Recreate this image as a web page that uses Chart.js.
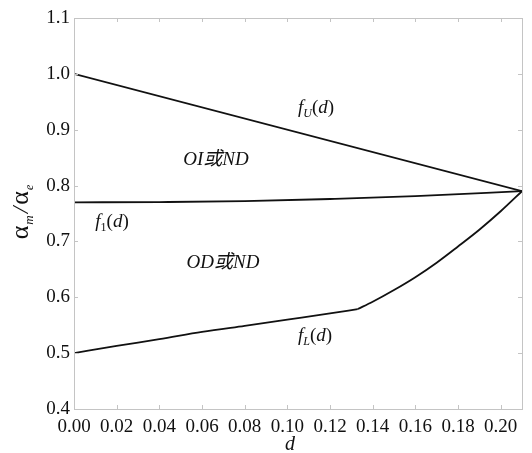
<!DOCTYPE html>
<html><head><meta charset="utf-8">
<script src="https://cdn.jsdelivr.net/npm/chart.js@4/dist/chart.umd.min.js"></script>
<style>html,body{margin:0;padding:0;background:#fff}#wrap{width:532px;height:453px}</style>
</head><body><div id="wrap"><canvas id="c" width="532" height="453"></canvas></div>
<script>
// Data
const dU = [0, 0.21];
const valsU = [1.0, 0.79];
const d1 = [0, 0.04, 0.08, 0.12, 0.16, 0.21];
const vals1 = [0.770, 0.7705, 0.772, 0.776, 0.781, 0.790];
// lower boundary: nearly straight part up to the kink, then the curved part
const dLa = [0, 0.02, 0.04, 0.06, 0.08, 0.10, 0.12, 0.133];
const valsLa = [0.500, 0.513, 0.525, 0.538, 0.549, 0.560, 0.571, 0.579];
const dLb = [0.133, 0.140, 0.150, 0.160, 0.170, 0.180, 0.190, 0.200, 0.21];
const valsLb = [0.579, 0.592, 0.613, 0.636, 0.662, 0.691, 0.721, 0.754, 0.790];
const xTicks = [0, 0.02, 0.04, 0.06, 0.08, 0.10, 0.12, 0.14, 0.16, 0.18, 0.20];
const yTicks = [0.4, 0.5, 0.6, 0.7, 0.8, 0.9, 1.0, 1.1];

const pts = (xs, ys) => xs.map((x, i) => ({x: x, y: ys[i]}));
const lineStyle = {showLine: true, borderColor: '#111', borderWidth: 1.8, pointRadius: 0, tension: 0, fill: false};

const SERIF = '"Liberation Serif","DejaVu Serif",serif';
const CJK = '"Noto Sans CJK SC",sans-serif';

function drawSegs(ctx, segs, cx, cy, align) {
  let total = 0;
  segs.forEach(s => { ctx.font = s[1]; total += ctx.measureText(s[0]).width + (s[3] || 0); });
  let x = align === 'left' ? cx : cx - total / 2;
  ctx.textBaseline = 'alphabetic';
  ctx.textAlign = 'left';
  segs.forEach(s => { ctx.font = s[1]; ctx.fillText(s[0], x, cy + (s[2] || 0)); x += ctx.measureText(s[0]).width + (s[3] || 0); });
}

const deco = {
  id: 'deco',
  afterDraw(chart) {
    const ctx = chart.ctx, a = chart.chartArea, xs = chart.scales.x, ys = chart.scales.y;
    ctx.save();
    ctx.strokeStyle = '#c4c4c4';
    ctx.lineWidth = 1;
    ctx.strokeRect(Math.round(a.left) + 0.5, Math.round(a.top) + 0.5, Math.round(a.right - a.left), Math.round(a.bottom - a.top));
    ctx.beginPath();
    xTicks.forEach(v => {
      const px = Math.round(xs.getPixelForValue(v)) + 0.5;
      ctx.moveTo(px, a.bottom); ctx.lineTo(px, a.bottom - 4);
      ctx.moveTo(px, a.top); ctx.lineTo(px, a.top + 4);
    });
    yTicks.forEach(v => {
      const py = Math.round(ys.getPixelForValue(v)) + 0.5;
      ctx.moveTo(a.left, py); ctx.lineTo(a.left + 4, py);
      ctx.moveTo(a.right, py); ctx.lineTo(a.right - 4, py);
    });
    ctx.stroke();

    ctx.fillStyle = '#111';
    const it = 'italic 19px ' + SERIF, up = '19px ' + SERIF, sub = 'italic 12px ' + SERIF, cj = 'italic 19px ' + CJK;
    drawSegs(ctx, [['f', it], ['U', sub, 4], ['(', up], ['d', it], [')', up]], 316, 113);
    drawSegs(ctx, [['OI', it], ['或', cj], ['ND', it]], 216, 165);
    drawSegs(ctx, [['f', it], ['1', '12px ' + SERIF, 4], ['(', up], ['d', it], [')', up]], 112, 227);
    drawSegs(ctx, [['OD', it], ['或', cj], ['ND', it]], 223, 268);
    drawSegs(ctx, [['f', it], ['L', sub, 4], ['(', up], ['d', it], [')', up]], 315, 341);
    // x axis title
    drawSegs(ctx, [['d', 'italic 20px ' + SERIF]], 290, 450);
    // y axis title (rotated)
    ctx.translate(28, 212);
    ctx.rotate(-Math.PI / 2);
    drawSegs(ctx, [['α', '26px ' + SERIF, 0, 1], ['m', 'italic 13px ' + SERIF, 5, 2], ['/', 'italic 24px ' + SERIF, 0, 2], ['α', '26px ' + SERIF, 0, 1], ['e', 'italic 12px ' + SERIF, 5]], 0, 0);
    ctx.restore();
  }
};

new Chart(document.getElementById('c'), {
  type: 'scatter',
  data: {
    datasets: [
      Object.assign({label: 'fU', data: pts(dU, valsU)}, lineStyle),
      Object.assign({label: 'f1', data: pts(d1, vals1)}, lineStyle, {cubicInterpolationMode: 'monotone'}),
      Object.assign({label: 'fL-a', data: pts(dLa, valsLa)}, lineStyle, {cubicInterpolationMode: 'monotone'}),
      Object.assign({label: 'fL-b', data: pts(dLb, valsLb)}, lineStyle, {cubicInterpolationMode: 'monotone'})
    ]
  },
  options: {
    responsive: false,
    animation: false,
    layout: {padding: {left: 0, right: 10, top: 18, bottom: 0}},
    plugins: {legend: {display: false}, tooltip: {enabled: false}},
    scales: {
      x: {
        type: 'linear', min: 0, max: 0.21,
        afterFit(s) { s.height = 44; },
        afterBuildTicks(s) { s.ticks = xTicks.map(v => ({value: v})); },
        grid: {display: false, drawTicks: false},
        border: {display: false},
        ticks: {color: '#111', padding: 7, font: {family: SERIF, size: 19}, maxRotation: 0, autoSkip: false,
          callback: v => Number(v).toFixed(2)}
      },
      y: {
        type: 'linear', min: 0.4, max: 1.1,
        afterFit(s) { s.width = 74; },
        afterBuildTicks(s) { s.ticks = yTicks.map(v => ({value: v})); },
        grid: {display: false, drawTicks: false},
        border: {display: false},
        ticks: {color: '#111', padding: 4, font: {family: SERIF, size: 19},
          callback: v => Number(v).toFixed(1)}
      }
    }
  },
  plugins: [deco]
});
</script>
</body></html>
